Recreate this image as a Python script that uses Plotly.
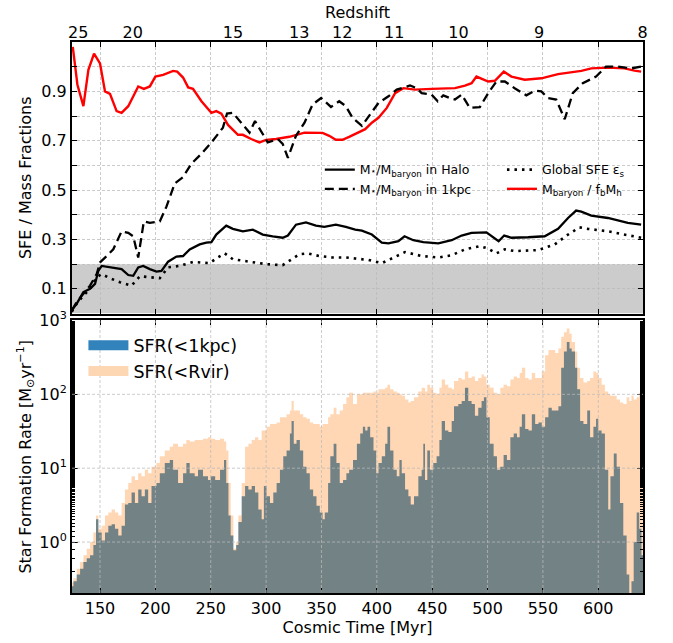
import plotly.graph_objects as go

# ---------------- top panel: fractions vs cosmic time [Myr] ----------------
t_bar = [125.4, 129.6, 135, 139.5, 144.6, 150, 154.5, 159, 165, 169.5, 175.5, 184.5, 189.6, 195, 200,
         207, 216, 219.7, 225, 229.6, 234, 241.6, 250.6, 255, 259.6, 265.6, 274.6, 279, 286.5, 294,
         300, 309, 321, 334.7, 351, 357, 363, 369, 375, 380.5, 389.5, 395.5, 401.5, 409, 416.5, 424,
         434.5, 449.5, 470.6, 479.6, 485.6, 490, 496, 500.6, 506.6, 514.7, 521.6, 533.6, 548.6, 563.7,
         584.7, 593.7, 608.7, 623.7, 632.7, 638.7]
f_bar = [1.08, 0.927, 0.84, 0.987, 1.053, 1.013, 0.9, 0.89, 0.82, 0.813, 0.84, 0.92, 0.91, 0.92, 0.96,
         0.967, 0.983, 0.98, 0.956, 0.916, 0.91, 0.86, 0.813, 0.82, 0.81, 0.764, 0.724, 0.724, 0.707, 0.693,
         0.703, 0.707, 0.716, 0.733, 0.732, 0.72, 0.704, 0.704, 0.716, 0.727, 0.747, 0.773, 0.793, 0.833, 0.893, 0.913,
         0.907, 0.91, 0.913, 0.923, 0.933, 0.96, 0.947, 0.94, 0.943, 0.98, 0.96, 0.947, 0.953, 0.97,
         0.983, 0.993, 0.996, 0.993, 0.984, 0.98]

t_halo = [124.5, 129, 135, 141, 145.5, 148.5, 151.5, 162, 169.5, 175.5, 180, 184.5, 189, 195, 201, 205.5,
          211.5, 219, 225, 231, 240, 246, 250.6, 255, 264, 270, 279, 288, 297, 306, 315, 319.7, 327, 336,
          345, 352.6, 363, 372, 380.5, 386.5, 395.5, 404.5, 410.5, 419.5, 425, 433, 442, 455.5, 467.6,
          476.6, 485.6, 499, 510, 515, 521.6, 536.6, 551.6, 563.7, 572.7, 580, 584.7, 593.7, 608.7, 626.7, 638.7]
f_halo = [0.013, 0.04, 0.087, 0.1, 0.12, 0.173, 0.193, 0.187, 0.18, 0.156, 0.153, 0.187, 0.193, 0.18, 0.17, 0.173,
          0.21, 0.231, 0.233, 0.26, 0.28, 0.287, 0.289, 0.32, 0.356, 0.343, 0.333, 0.34, 0.32, 0.313, 0.307, 0.316, 0.36, 0.369,
          0.356, 0.351, 0.36, 0.351, 0.34, 0.336, 0.32, 0.287, 0.284, 0.293, 0.313, 0.297, 0.289, 0.284, 0.297,
          0.316, 0.327, 0.329, 0.293, 0.316, 0.307, 0.309, 0.313, 0.343, 0.387, 0.417, 0.413, 0.397, 0.387, 0.367, 0.36]

t_1kpc = [124.5, 129, 135, 141, 147, 150, 156, 162, 169.5, 175.5, 180, 184.5, 189.6, 195, 204, 210, 217.5,
          225, 232.5, 241.6, 250.6, 258, 261, 264.7, 270, 277.5, 285, 290, 295.5, 301.5, 310.6, 315, 319.7,
          327, 334.7, 342, 349.7, 358.6, 366, 372, 378, 386.5, 394, 401.5, 410.5, 418, 430, 436, 440.5,
          449.5, 455, 460, 466, 470.6, 476.6, 484, 493, 500.6, 508, 515.6, 524.5, 535, 542.6, 548.6, 554.6,
          562, 569.7, 577, 586, 598, 607, 617.6, 629.7, 638.7]
f_1kpc = [0.013, 0.047, 0.08, 0.113, 0.16, 0.207, 0.233, 0.26, 0.333, 0.327, 0.313, 0.227, 0.373, 0.367, 0.373, 0.433, 0.527,
          0.553, 0.607, 0.647, 0.693, 0.733, 0.753, 0.81, 0.813, 0.773, 0.733, 0.78, 0.74, 0.693, 0.707, 0.687, 0.631,
          0.72, 0.773, 0.847, 0.873, 0.837, 0.86, 0.84, 0.793, 0.76, 0.807, 0.853, 0.88, 0.907, 0.924, 0.913, 0.893,
          0.887, 0.86, 0.884, 0.873, 0.867, 0.887, 0.833, 0.836, 0.893, 0.94, 0.94, 0.913, 0.884, 0.903, 0.9, 0.873,
          0.867, 0.787, 0.893, 0.933, 0.96, 1.0, 1.0, 0.993, 1.0]

t_sfe = [124.5, 129, 135, 141, 147, 151.5, 159, 168, 178.5, 186, 195, 204, 211.5, 222, 234, 249, 255, 262.6,
         270, 285, 300, 315, 321, 330, 337.5, 348, 360, 372, 380.5, 392.5, 404.5, 415, 425.5, 440.5, 455.5,
         467.6, 479.6, 493, 500.6, 508, 515.6, 524.5, 545.6, 560.7, 572.7, 583, 590.7, 608.7, 626.7, 638.7]
f_sfe = [0.007, 0.04, 0.073, 0.1, 0.147, 0.16, 0.143, 0.127, 0.113, 0.151, 0.147, 0.143, 0.187, 0.193, 0.209, 0.204, 0.223, 0.244,
         0.22, 0.209, 0.2, 0.196, 0.213, 0.24, 0.244, 0.233, 0.227, 0.227, 0.223, 0.217, 0.204, 0.227, 0.249, 0.233, 0.227,
         0.236, 0.26, 0.273, 0.263, 0.244, 0.26, 0.253, 0.257, 0.28, 0.32, 0.349, 0.343, 0.333, 0.316, 0.307]

# ---------------- bottom panel: SFR (log10 of Msun/yr) ----------------
t_sfr = [124.5, 126, 129, 132, 135, 138, 141, 144, 146.4, 148.5, 151.5, 154.5, 157.5, 160.5, 163.5, 166.5,
         169.5, 172.5, 175.5, 178.5, 181.5, 184.5, 187.5, 190.5, 193.5, 196.5, 201, 204, 208.5, 213, 216,
         220.5, 225, 228, 231, 235.5, 238.5, 243, 247.5, 250, 254, 258.4, 262, 264, 266, 268, 270.4, 273,
         275, 278, 281, 284, 287, 290, 293, 296, 298, 300.4, 303.5, 306.5, 309.5, 312.5, 315.5, 318.5,
         321.5, 323, 325, 327.5, 330.5, 333.5, 336.5, 339.5, 342.5, 345.5, 348.5, 351, 353, 356, 358, 361,
         363.5, 366.5, 369.5, 372.5, 375, 378.5, 382, 385, 387.4, 389.5, 391.6, 394, 397, 399.4, 401.5,
         404.5, 407.5, 409.6, 412, 415, 418, 420.4, 422.5, 425.5, 428.5, 430.6, 433.6, 437.5, 440.5, 442,
         443.5, 445.6, 448, 451, 454, 456.5, 458.6, 461.6, 464.6, 467.6, 469.7, 473.6, 476.6, 479.6, 482.6,
         485.6, 488.6, 491.6, 494.6, 496.7, 499, 502, 505.5, 508.5, 511.5, 514.5, 517.5, 520.6, 523.6,
         526.6, 529, 531, 534, 537, 540, 543, 546, 549, 552, 555, 558, 561, 564, 566.5, 569, 571.6, 574,
         576, 579, 581, 583.6, 586.6, 590, 592.6, 595.6, 598, 600, 603, 606, 609, 611, 614, 616.6, 619.6,
         622.6, 625.6, 628, 630, 632, 634.7, 637, 639]
log_sfr_rvir = [-0.55, -0.49, -0.36, -0.27, -0.18, -0.09, 0.0, 0.13, 0.36, 0.18, 0.22, 0.36, 0.40, 0.44, 0.40, 0.36,
                0.53, 0.71, 0.80, 0.89, 0.84, 0.93, 0.89, 0.98, 0.93, 1.02, 1.07, 1.16, 1.24, 1.29, 1.33,
                1.29, 1.33, 1.38, 1.36, 1.38, 1.38, 1.40, 1.42, 1.40, 1.38, 1.40, 1.36, 1.24, 0.80, 0.36, -0.09, 0.0,
                0.36, 0.80, 1.29, 1.33, 1.38, 1.42, 1.38, 1.51, 1.51, 1.56, 1.60, 1.60, 1.62, 1.69, 1.69, 1.73,
                1.78, 1.91, 1.78, 1.78, 1.73, 1.69, 1.67, 1.62, 1.60, 1.60, 1.56, 1.60, 1.60, 1.69, 1.73, 1.82,
                1.73, 1.78, 1.87, 1.96, 2.02, 1.87, 2.00, 2.00, 2.02, 2.02, 2.02, 2.02, 2.04, 2.02, 2.07,
                2.07, 2.09, 2.13, 2.07, 2.04, 2.02, 2.00, 1.98, 1.93, 1.89, 1.91, 1.96, 2.04, 2.09, 2.09,
                2.04, 2.13, 2.09, 2.02, 2.00, 2.09, 2.20, 2.13, 2.09, 2.07, 2.18, 2.22, 2.20, 2.31, 2.22,
                2.24, 2.18, 2.22, 2.27, 2.24, 2.13, 2.09, 2.02, 2.00, 2.09, 2.13, 2.11, 2.20, 2.24,
                2.22, 2.29, 2.36, 2.22, 2.20, 2.29, 2.22, 2.22, 2.31, 2.53, 2.60, 2.60, 2.56, 2.62, 2.78, 2.84, 2.89, 2.82,
                2.71, 2.58, 2.36, 2.22, 2.16, 2.18, 2.22, 2.31, 2.29, 2.22, 2.13, 2.04, 2.00, 1.98, 1.98, 1.93, 1.89,
                1.87, 1.96, 1.91, 1.98, 1.93, 1.96, 2.02, 2.09]
log_sfr_1kpc = [-0.6, -0.53, -0.44, -0.36, -0.27, -0.22, -0.18, -0.04, 0.31, 0.13, 0.02, 0.13, 0.22, 0.24, 0.18, 0.09,
                0.22, 0.51, 0.53, 0.67, 0.53, 0.71, 0.62, 0.71, 0.53, 0.76, 0.80, 0.93, 1.07, 1.11, 0.98,
                0.80, 0.93, 1.07, 0.93, 0.89, 0.98, 0.89, 0.84, 0.89, 0.84, 0.98, 1.11, 0.80, 0.36, 0.09, -0.11, -0.04,
                0.27, 0.62, 0.76, 0.71, 0.76, 0.67, 0.44, 0.31, 0.76, 0.62, 0.53, 0.67, 0.80, 0.98, 1.16, 1.24,
                1.47, 1.64, 1.33, 1.38, 1.24, 1.02, 0.93, 0.71, 0.62, 0.49, 0.40, 0.31, 0.40, 0.80, 1.16, 1.33,
                1.07, 0.80, 0.84, 0.93, 0.98, 1.11, 1.33, 1.47, 1.56, 1.51, 1.56, 1.42, 1.24, 0.93, 1.07,
                1.16, 1.33, 1.56, 1.24, 0.98, 0.89, 1.11, 0.93, 0.71, 0.62, 0.51, 0.62, 0.89, 0.98, 1.33,
                0.84, 1.24, 0.98, 1.07, 1.16, 1.38, 1.64, 1.51, 1.49, 1.64, 1.84, 1.87, 1.91, 2.09, 1.91,
                1.87, 1.71, 1.82, 1.91, 1.96, 1.69, 1.33, 1.16, 0.98, 1.02, 1.18, 1.11, 1.42, 1.47,
                1.42, 1.56, 1.73, 1.53, 1.51, 1.73, 1.60, 1.62, 1.56, 1.69, 1.82, 1.78, 1.78, 1.84, 2.36, 2.58, 2.71, 2.62,
                2.58, 2.36, 2.07, 1.64, 1.60, 1.78, 1.42, 1.56, 1.67, 1.51, 1.47, 0.98, 0.44, 0.89, 1.20, 1.02, 0.53,
                0.09, -0.44, -0.90, -0.53, 0.0, 0.40, 0.18, -0.18]
T_SFR_END = 641

# ---------------- ticks ----------------
myr_ticks = [150, 200, 250, 300, 350, 400, 450, 500, 550, 600]
frac_ticks = [0.1, 0.3, 0.5, 0.7, 0.9]
frac_minor = [0.2, 0.4, 0.6, 0.8, 1.0]
sfr_ticks = [1, 10, 100, 1000]
sfr_labels = ["10<sup>0</sup>", "10<sup>1</sup>", "10<sup>2</sup>", "10<sup>3</sup>"]
z_ticks = [25, 20, 15, 13, 12, 11, 10, 9, 8]
Z_REF, T_REF = 8, 640.0  # age at z=8 [Myr]


def z_to_myr(z):
    # matter-dominated scaling t ~ (1+z)^-1.5 normalised at z=8
    return T_REF * ((1 + Z_REF) / (1 + z)) ** 1.5


X_RANGE = [124.7, 640.4]
FONT = "DejaVu Sans"
GRID = "rgba(185,185,185,0.75)"

fig = go.Figure()

# top panel lines
fig.add_trace(go.Scatter(x=t_bar, y=f_bar, mode="lines", line=dict(color="#ff0000", width=2.4),
                         name="M<sub>baryon</sub> / f<sub>b</sub>M<sub>h</sub>", legend="legend2", legendrank=2,
                         xaxis="x", yaxis="y"))
fig.add_trace(go.Scatter(x=t_halo, y=f_halo, mode="lines", line=dict(color="black", width=2.3),
                         name="M<span style='font-size:9px'>⋆</span>/M<sub>baryon</sub> in Halo", legend="legend",
                         legendrank=1, xaxis="x", yaxis="y"))
fig.add_trace(go.Scatter(x=t_1kpc, y=f_1kpc, mode="lines", line=dict(color="black", width=2.3, dash="9px,5px"),
                         name="M<span style='font-size:9px'>⋆</span>/M<sub>baryon</sub> in 1kpc", legend="legend",
                         legendrank=2, xaxis="x", yaxis="y"))
fig.add_trace(go.Scatter(x=t_sfe, y=f_sfe, mode="lines", line=dict(color="black", width=2.6, dash="2.5px,5px"),
                         name="Global SFE ε<sub>s</sub>", legend="legend2", legendrank=1, xaxis="x", yaxis="y"))
# invisible trace so the redshift (top) axis is drawn
fig.add_trace(go.Scatter(x=[None], y=[None], mode="lines", showlegend=False, hoverinfo="skip",
                         xaxis="x3", yaxis="y"))

# bottom panel fills
sfr_1kpc = [10 ** v for v in log_sfr_1kpc]
sfr_rvir = [10 ** v for v in log_sfr_rvir]
x_steps = t_sfr + [T_SFR_END]
fig.add_trace(go.Scatter(x=x_steps, y=sfr_1kpc + [sfr_1kpc[-1]], mode="lines", line=dict(width=0, shape="hv"),
                         fill="tozeroy", fillcolor="rgba(31,119,180,0.9)", showlegend=False,
                         xaxis="x2", yaxis="y2"))
fig.add_trace(go.Scatter(x=x_steps, y=sfr_rvir + [sfr_rvir[-1]], mode="lines", line=dict(width=0, shape="hv"),
                         fill="tozeroy", fillcolor="rgba(255,127,14,0.31)", showlegend=False,
                         xaxis="x2", yaxis="y2"))
# legend entries for the fills
fig.add_trace(go.Scatter(x=[None], y=[None], mode="lines", line=dict(color="rgb(50,130,188)", width=11),
                         name="SFR(<1kpc)", legend="legend3", xaxis="x2", yaxis="y2"))
fig.add_trace(go.Scatter(x=[None], y=[None], mode="lines", line=dict(color="rgb(253,215,180)", width=11),
                         name="SFR(<Rvir)", legend="legend3", xaxis="x2", yaxis="y2"))

# grey band (low-fraction region) in top panel
fig.add_shape(type="rect", xref="x domain", yref="y", x0=0, x1=1, y0=0, y1=0.2,
              fillcolor="#cccccc", line=dict(width=0), layer="below")

# bottom-panel gridlines drawn above the fills (as in the reference)
for v in myr_ticks:
    fig.add_shape(type="line", xref="x2", yref="y2 domain", x0=v, x1=v, y0=0, y1=1,
                  line=dict(color=GRID, width=1, dash="3px,2px"), layer="above")
for v in sfr_ticks[:-1]:
    fig.add_shape(type="line", xref="x2 domain", yref="y2", x0=0, x1=1, y0=v, y1=v,
                  line=dict(color=GRID, width=1, dash="3px,2px"), layer="above")

axis_common = dict(showline=True, linewidth=2, linecolor="black", mirror="ticks", ticks="inside",
                   tickcolor="black", tickfont=dict(family=FONT, size=16, color="black"), zeroline=False)

fig.update_layout(
    width=673, height=643,
    margin=dict(l=72, r=30, t=38, b=47),
    paper_bgcolor="white", plot_bgcolor="white",
    font=dict(family=FONT, color="black"),
    xaxis=dict(domain=[0, 1], anchor="y", range=X_RANGE, tickvals=myr_ticks, showticklabels=False,
               ticklen=5, showgrid=True, gridcolor=GRID, griddash="3px,2px", gridwidth=1, matches="x2",
               **axis_common),
    yaxis=dict(domain=[0.5072, 1], anchor="x", range=[0, 1.1], tickvals=frac_ticks,
               ticklen=5, showgrid=True, gridcolor=GRID, griddash="3px,2px", gridwidth=1,
               minor=dict(tickvals=frac_minor, ticks="inside", ticklen=5, tickcolor="black", showgrid=True,
                          gridcolor=GRID, griddash="3px,2px", gridwidth=1),
               title=dict(text="SFE / Mass Fractions", font=dict(family=FONT, size=16), standoff=6),
               **axis_common),
    xaxis2=dict(domain=[0, 1], anchor="y2", range=X_RANGE, tickvals=myr_ticks, ticklen=5, showgrid=False,
                title=dict(text="Cosmic Time [Myr]", font=dict(family=FONT, size=16), standoff=2),
                **axis_common),
    yaxis2=dict(domain=[0, 0.4946], anchor="x2", type="log", range=[-0.69, 3], tickvals=sfr_ticks,
                ticktext=sfr_labels, ticklen=6, showgrid=False,
                minor=dict(ticks="inside", ticklen=3, tickcolor="black", showgrid=False),
                title=dict(text="Star Formation Rate [M<sub>⊙</sub>yr<sup>−1</sup>]",
                           font=dict(family=FONT, size=16), standoff=4),
                **axis_common),
    xaxis3=dict(overlaying="x", anchor="y", side="top", range=X_RANGE,
                tickvals=[z_to_myr(z) for z in z_ticks], ticktext=[str(z) for z in z_ticks],
                ticks="", showgrid=False, showline=False, zeroline=False,
                tickfont=dict(family=FONT, size=16, color="black"),
                title=dict(text="Redshift", font=dict(family=FONT, size=16), standoff=0)),
    legend=dict(x=0.434, y=0.795, xanchor="left", yanchor="top", bgcolor="rgba(0,0,0,0)",
                font=dict(family=FONT, size=12.5), tracegroupgap=0, itemwidth=30),
    legend2=dict(x=0.753, y=0.795, xanchor="left", yanchor="top", bgcolor="rgba(0,0,0,0)",
                 font=dict(family=FONT, size=12.5), tracegroupgap=0, itemwidth=30),
    legend3=dict(x=0.02, y=0.482, xanchor="left", yanchor="top", bgcolor="rgba(0,0,0,0)",
                 font=dict(family=FONT, size=17.5), tracegroupgap=0, itemwidth=40),
)

fig.write_html("out.html")
